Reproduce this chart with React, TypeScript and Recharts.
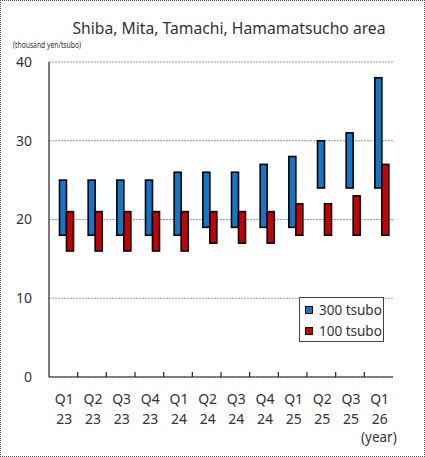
import { BarChart, Bar, XAxis, YAxis, CartesianGrid } from 'recharts';

const quarters = ['Q1', 'Q2', 'Q3', 'Q4', 'Q1', 'Q2', 'Q3', 'Q4', 'Q1', 'Q2', 'Q3', 'Q1'];
const years = ['23', '23', '23', '23', '24', '24', '24', '24', '25', '25', '25', '26'];

// 300 tsubo range (thousand yen/tsubo)
const low300 = [18, 18, 18, 18, 18, 19, 19, 19, 19, 24, 24, 24];
const high300 = [25, 25, 25, 25, 26, 26, 26, 27, 28, 30, 31, 38];

// 100 tsubo range
const low100 = [16, 16, 16, 16, 16, 17, 17, 17, 18, 18, 18, 18];
const high100 = [21, 21, 21, 21, 21, 21, 21, 21, 22, 22, 23, 27];

const yTicks = [0, 10, 20, 30, 40];

const series = [
  { key: 'r300', label: '300 tsubo', color: '#1177cc' },
  { key: 'r100', label: '100 tsubo', color: '#cc0000' },
];

const FONT = '"Noto Sans", sans-serif';

const data = quarters.map((q, i) => ({
  name: `${q} ${years[i]}`,
  q,
  yr: years[i],
  r300: [low300[i], high300[i]],
  r100: [low100[i], high100[i]],
}));

const PLOT_LEFT = 49;
const PLOT_RIGHT = 393;
const BAND = (PLOT_RIGHT - PLOT_LEFT) / quarters.length;

// ranged bar with a dark outline, nudged right like the original
const OutlinedBar = (props: any) => {
  const { x, y, width, height, fill } = props;
  if (height == null || width == null) return null;
  const top = height < 0 ? y + height : y;
  const h = Math.abs(height);
  return (
    <rect
      x={x + 3.5}
      y={top}
      width={width}
      height={h}
      fill={fill}
      stroke="#000"
      strokeWidth={1.6}
    />
  );
};

const QuarterTick = (props: any) => {
  const { x, y, index } = props;
  const row = data[index];
  return (
    <g>
      {index < quarters.length - 1 && (
        <line x1={x + BAND / 2} x2={x + BAND / 2} y1={377} y2={372} stroke="#222" strokeWidth={1.2} />
      )}
      <text x={x + 1} y={y} textAnchor="middle" fontSize={14} fontFamily={FONT} fill="#333">
        <tspan x={x + 1} dy={19}>{row ? row.q : ''}</tspan>
        <tspan x={x + 1} dy={19.5}>{row ? row.yr : ''}</tspan>
      </text>
    </g>
  );
};

const LegendBox = () => (
  <div
    style={{
      position: 'absolute',
      left: 298,
      top: 296,
      width: 85,
      height: 45,
      border: '1px solid #444',
      background: '#fff',
      boxSizing: 'border-box',
      fontFamily: FONT,
      fontSize: 13.5,
      color: '#333',
      padding: '1px 0 0 5px',
      whiteSpace: 'nowrap',
    }}
  >
    {series.map((it) => (
      <div key={it.key} style={{ display: 'flex', alignItems: 'center', height: 21 }}>
        <span
          style={{
            display: 'inline-block',
            width: 6,
            height: 6,
            background: it.color,
            border: '1.5px solid #000',
            marginRight: 6,
          }}
        />
        {it.label}
      </div>
    ))}
  </div>
);

export default function App() {
  return (
    <div
      style={{
        position: 'relative',
        width: 425,
        height: 457,
        border: '1px dotted #555',
        boxSizing: 'border-box',
        background: '#fff',
        overflow: 'hidden',
      }}
    >
      <style>{'body{margin:0}'}</style>
      <div
        style={{
          position: 'absolute',
          left: 0,
          width: 456,
          top: 16,
          textAlign: 'center',
          fontFamily: FONT,
          fontSize: 15.7,
          color: '#333',
          whiteSpace: 'nowrap',
        }}
      >
        Shiba, Mita, Tamachi, Hamamatsucho area
      </div>
      <svg style={{ position: 'absolute', left: 0, top: 0 }} width={425} height={60}>
        <text
          x={12}
          y={47}
          fontSize={9}
          fontFamily={FONT}
          fill="#333"
          textLength={68}
          lengthAdjust="spacingAndGlyphs"
        >
          (thousand yen/tsubo)
        </text>
      </svg>
      <div
        style={{
          position: 'absolute',
          left: 360,
          top: 427,
          fontFamily: FONT,
          fontSize: 13.5,
          color: '#333',
        }}
      >
        (year)
      </div>
      <div style={{ position: 'absolute', left: -1, top: -1 }}>
        <BarChart
          width={425}
          height={457}
          data={data}
          margin={{ top: 62, right: 32, left: 9, bottom: 20 }}
          barSize={7}
          barGap={0}
        >
          <CartesianGrid vertical={false} stroke="#999" strokeDasharray="2 1" />
          <XAxis
            dataKey="name"
            height={60}
            axisLine={{ stroke: '#222', strokeWidth: 1.2 }}
            tickLine={false}
            tick={<QuarterTick />}
            interval={0}
          />
          <YAxis
            domain={[0, 40]}
            ticks={yTicks}
            width={40}
            axisLine={{ stroke: '#222', strokeWidth: 1.2 }}
            tickLine={false}
            tickSize={0}
            tickMargin={17}
            tick={{ fontSize: 14, fontFamily: FONT, fill: '#333' }}
          />
          <YAxis
            yAxisId="frame"
            orientation="right"
            domain={[0, 40]}
            width={0}
            tick={false}
            tickLine={false}
            axisLine={{ stroke: '#999' }}
          />
          {series.map((s) => (
            <Bar
              key={s.key}
              dataKey={s.key}
              name={s.label}
              fill={s.color}
              shape={(p: any) => <OutlinedBar {...p} />}
              isAnimationActive={false}
            />
          ))}
        </BarChart>
      </div>
      <LegendBox />
    </div>
  );
}
